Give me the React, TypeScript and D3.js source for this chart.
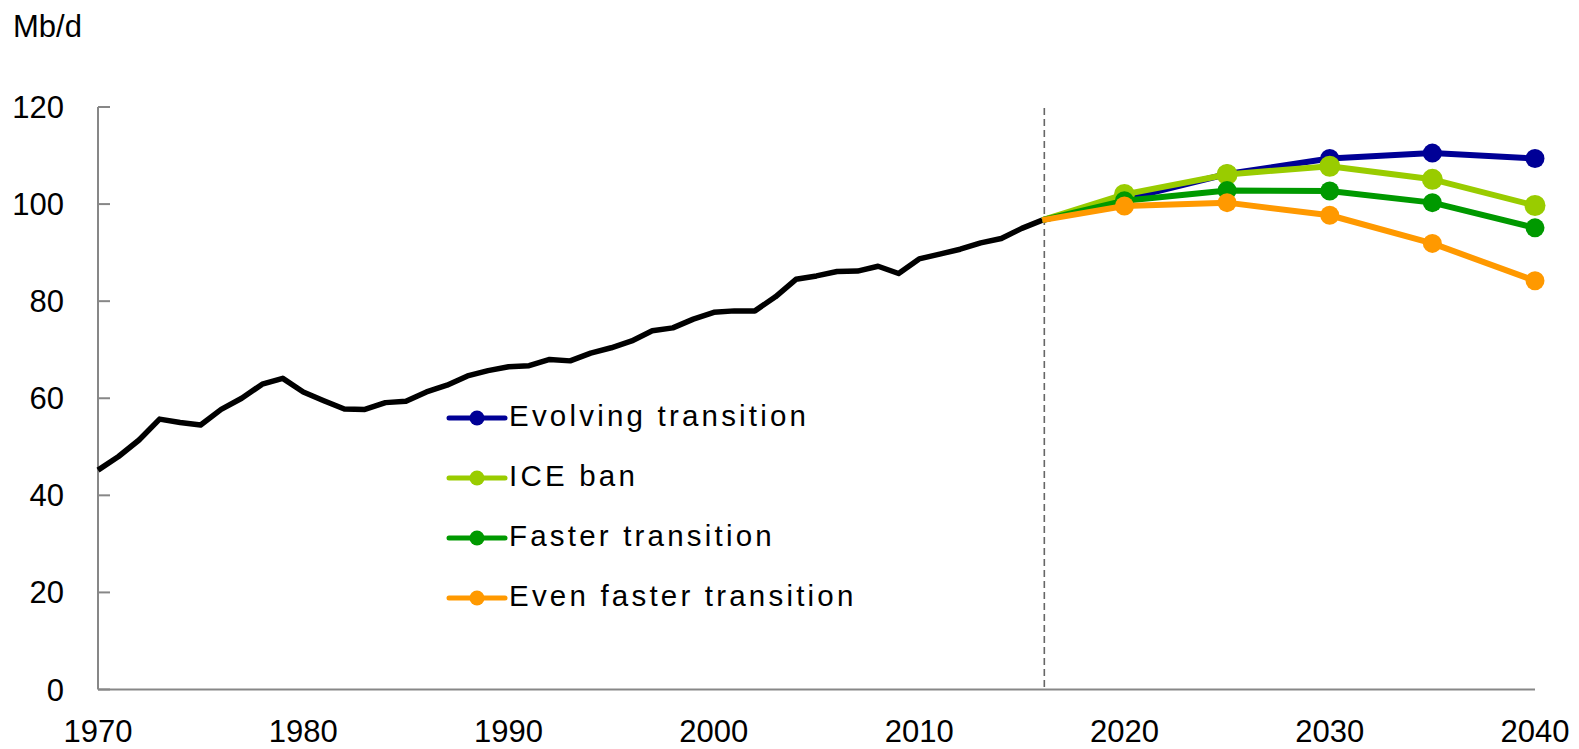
import React from "react";
import * as d3 from "d3";

const histYears: number[] = d3.range(1970, 2017);
const histValues: number[] = [
  45.2, 48.0, 51.4, 55.7, 55.0, 54.5, 57.7, 60.0, 62.9, 64.1,
  61.3, 59.5, 57.8, 57.7, 59.1, 59.4, 61.3, 62.7, 64.6, 65.7,
  66.5, 66.7, 68.0, 67.7, 69.3, 70.4, 71.8, 73.9, 74.5, 76.3,
  77.7, 78.0, 78.0, 80.9, 84.5, 85.2, 86.1, 86.2, 87.2, 85.7,
  88.7, 89.7, 90.7, 92.0, 92.9, 95.0, 96.7,
];

const projYears: number[] = [2016, 2020, 2025, 2030, 2035, 2040];
const seriesNames: string[] = [
  "Evolving transition",
  "ICE ban",
  "Faster transition",
  "Even faster transition",
];
const evolving: number[] = [96.7, 101.0, 106.2, 109.4, 110.5, 109.4];
const iceBan: number[] = [96.7, 102.0, 106.1, 107.8, 105.1, 99.7];
const faster: number[] = [96.7, 100.7, 102.8, 102.7, 100.3, 95.1];
const evenFaster: number[] = [96.7, 99.6, 100.3, 97.7, 91.9, 84.2];
const seriesColors: string[] = ["#000096", "#99CC00", "#009900", "#FF9900"];

const yTicks: number[] = [0, 20, 40, 60, 80, 100, 120];
const xTicks: number[] = [1970, 1980, 1990, 2000, 2010, 2020, 2030, 2040];
const dividerYear = 2016;
const unitLabel = "Mb/d";

const W = 1579;
const H = 749;
const FONT = "'Liberation Sans', Arial, sans-serif";

export default function App() {
  const x = d3.scaleLinear().domain([1970, 2040]).range([98, 1535]);
  const y = d3.scaleLinear().domain([0, 120]).range([689.5, 107]);
  const line = d3
    .line<[number, number]>()
    .x((d) => x(d[0]))
    .y((d) => y(d[1]));

  const hist: [number, number][] = histYears.map((yr, i) => [yr, histValues[i]]);
  const allSeries = [evolving, iceBan, faster, evenFaster];

  const axisColor = "#878787";
  const legendX0 = 449;
  const legendX1 = 505;
  const legendMarkerX = 477;
  const legendYs = [418, 478, 538, 598];

  return (
    <svg
      width={W}
      height={H}
      style={{ position: "absolute", left: 0, top: 0, background: "#fff" }}
      fontFamily={FONT}
    >
      <rect x={0} y={0} width={W} height={H} fill="#fff" />
      <text x={13} y={37} fontSize={31} fill="#000">
        {unitLabel}
      </text>

      {/* y ticks & labels */}
      {yTicks.map((t) => (
        <g key={t}>
          <line x1={x(1970)} x2={x(1970) + 12} y1={y(t)} y2={y(t)} stroke={axisColor} strokeWidth={2} />
          <text x={64} y={y(t) + 11} fontSize={31} textAnchor="end" fill="#000">
            {t}
          </text>
        </g>
      ))}

      {/* x labels */}
      {xTicks.map((t) => (
        <text key={t} x={x(t)} y={742} fontSize={31} textAnchor="middle" fill="#000">
          {t}
        </text>
      ))}

      {/* axes */}
      <line x1={x(1970)} x2={x(1970)} y1={y(120)} y2={y(0)} stroke={axisColor} strokeWidth={2} />
      <line x1={x(1970)} x2={x(2040)} y1={y(0)} y2={y(0)} stroke={axisColor} strokeWidth={2} />

      {/* divider */}
      <line
        x1={x(dividerYear) + 2}
        x2={x(dividerYear) + 2}
        y1={y(120) + 1}
        y2={y(0)}
        stroke="#666"
        strokeWidth={1.6}
        strokeDasharray="7,4"
      />

      {/* historical */}
      <path d={line(hist) || ""} fill="none" stroke="#000" strokeWidth={5.5} strokeLinejoin="round" />

      {/* projections */}
      {allSeries.map((vals, si) => {
        const pts: [number, number][] = projYears.map((yr, i) => [yr, vals[i]]);
        return (
          <g key={si}>
            <path d={line(pts) || ""} fill="none" stroke={seriesColors[si]} strokeWidth={6} strokeLinejoin="round" />
            {pts.slice(1).map((p, i) => (
              <circle key={i} cx={x(p[0])} cy={y(p[1])} r={si === 1 ? 10.5 : 9.5} fill={seriesColors[si]} />
            ))}
          </g>
        );
      })}

      {/* legend */}
      {seriesNames.map((name, i) => (
        <g key={name}>
          <line
            x1={legendX0}
            x2={legendX1}
            y1={legendYs[i]}
            y2={legendYs[i]}
            stroke={seriesColors[i]}
            strokeWidth={5}
            strokeLinecap="round"
          />
          <circle cx={legendMarkerX} cy={legendYs[i]} r={7.5} fill={seriesColors[i]} />
          <text x={509} y={legendYs[i] + 8} fontSize={29.5} letterSpacing={3.2} fill="#000">
            {name}
          </text>
        </g>
      ))}
    </svg>
  );
}
